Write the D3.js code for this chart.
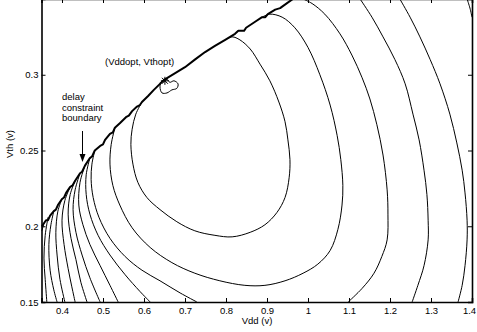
<!DOCTYPE html>
<html>
<head>
<meta charset="utf-8">
<script src="https://cdn.jsdelivr.net/npm/d3@7"></script>
<style>
  body { margin: 0; background: #fff; }
  svg { display: block; }
  text { font-family: "Liberation Sans", Arial, sans-serif; font-size: 9.5px; fill: #000; }
  .axis path, .axis line { stroke: #000; }
  .axis path { stroke-width: 1.6px; }
  .contour { fill: none; stroke: #000; stroke-width: 1px; }
  .boundary { fill: none; stroke: #000; stroke-width: 2px; stroke-linejoin: round; }
</style>
</head>
<body>
<svg id="chart" width="477" height="332"></svg>
<script>
// axis ticks
const xTicks = [0.4, 0.5, 0.6, 0.7, 0.8, 0.9, 1.0, 1.1, 1.2, 1.3, 1.4]
const yTicks = [0.15, 0.2, 0.25, 0.3]

// delay constraint boundary [Vdd, Vth], with its small stair steps
const boundary = [[.351,.200],[.356,.202],[.361,.204],[.366,.204],[.371,.207],[.380,.210],[.385,.211],
  [.390,.214],[.400,.218],[.405,.219],[.410,.222],[.420,.226],[.426,.227],[.432,.230],[.444,.235],
  [.449,.236],[.456,.240],[.468,.245],[.473,.246],[.480,.250],[.493,.253],[.500,.254],[.505,.257],
  [.517,.261],[.524,.262],[.529,.265],[.541,.268],[.556,.272],[.563,.273],[.571,.276],[.583,.279],
  [.590,.280],[.595,.282],[.610,.286],[.624,.290],[.639,.294],[.651,.297],[.676,.301],[.700,.305],
  [.724,.310],[.749,.315],[.773,.319],[.798,.323],[.822,.327],[.830,.329],[.844,.329],[.849,.331],
  [.871,.335],[.888,.338],[.896,.338],[.902,.340],[.920,.343],[.932,.344],[.937,.345],[.963,.350]]

// energy contours [Vdd, Vth]
const contour1 = [[.595,.282],[.580,.274],[.571,.264],[.568,.254],[.573,.241],[.585,.229],[.607,.219],
  [.639,.211],[.680,.203],[.724,.197],[.773,.194],[.815,.193],[.859,.196],[.895,.201],[.924,.209],
  [.944,.219],[.954,.232],[.956,.244],[.951,.257],[.944,.269],[.929,.282],[.907,.296],[.883,.307],
  [.859,.317],[.834,.323],[.815,.325],[.798,.323]]
const contour2 = [[.529,.265],[.520,.254],[.517,.241],[.524,.227],[.541,.214],[.571,.199],[.615,.186],
  [.668,.176],[.724,.169],[.785,.164],[.846,.161],[.895,.161],[.944,.164],[.988,.169],[1.024,.175],
  [1.054,.184],[1.073,.198],[1.083,.214],[1.085,.227],[1.080,.244],[1.071,.260],[1.054,.280],
  [1.029,.300],[1.000,.318],[.968,.331],[.937,.338],[.907,.340],[.888,.338]]
const contour3a = [[.480,.250],[.473,.241],[.471,.231],[.476,.219],[.490,.206],[.517,.192],[.554,.180],
  [.595,.171],[.639,.164],[.688,.156],[.729,.150]]
const contour3b = [[.988,.350],[1.010,.347],[1.041,.340],[1.078,.327],[1.107,.313],[1.132,.298],
  [1.151,.284],[1.168,.267],[1.183,.247],[1.193,.224],[1.195,.208],[1.193,.191],[1.180,.180],
  [1.161,.169],[1.132,.159],[1.098,.150]]
const contour4a = [[.468,.245],[.459,.234],[.459,.221],[.468,.208],[.488,.194],[.517,.181],[.554,.168],
  [.590,.157],[.615,.150]]
const contour4b = [[1.127,.350],[1.156,.338],[1.183,.325],[1.212,.310],[1.237,.294],[1.256,.274],
  [1.271,.257],[1.283,.237],[1.290,.221],[1.293,.204],[1.293,.191],[1.283,.174],[1.268,.161],[1.254,.150]]
const contour5a = [[.456,.240],[.444,.229],[.441,.214],[.451,.201],[.468,.188],[.493,.174],[.517,.161],[.537,.150]]
const contour5b = [[1.224,.350],[1.249,.338],[1.273,.325],[1.298,.310],[1.322,.294],[1.346,.274],
  [1.363,.255],[1.376,.237],[1.383,.222],[1.388,.204],[1.388,.191],[1.383,.174],[1.376,.161],[1.366,.150]]
const contour6a = [[.444,.235],[.432,.224],[.427,.211],[.434,.196],[.449,.181],[.468,.166],[.493,.150]]
const contour6b = [[1.388,.350],[1.395,.344],[1.400,.338]]
const contour7 = [[.432,.230],[.420,.221],[.415,.208],[.422,.192],[.434,.178],[.446,.163],[.461,.150]]
const contour8 = [[.420,.226],[.407,.217],[.400,.204],[.405,.188],[.415,.172],[.424,.160],[.432,.150]]
const contour9 = [[.400,.218],[.390,.210],[.385,.196],[.388,.181],[.395,.165],[.407,.150]]
const contour10 = [[.380,.210],[.373,.201],[.368,.188],[.371,.171],[.380,.158],[.388,.150]]
const contour11 = [[.366,.206],[.359,.194],[.356,.179],[.359,.165],[.363,.150]]
const contour12 = [[.356,.202],[.351,.197]]
// tiny closed contour next to the optimum
const optLoop = [[.639,.292],[.644,.288],[.656,.288],[.668,.290],[.680,.291],[.683,.294],[.673,.296],
  [.663,.295],[.656,.297],[.644,.296]]
const optimum = [0.651, 0.296]

const openContours = [contour1, contour2, contour3a, contour3b, contour4a, contour4b, contour5a,
  contour5b, contour6a, contour6b, contour7, contour8, contour9, contour10, contour11, contour12]

const svg = d3.select('#chart')

const xScale = d3.scaleLinear().domain([0.35, 1.4]).range([41.5, 472])
const yScale = d3.scaleLinear().domain([0.15, 0.35]).range([302, -1])

const line = d3.line()
  .x(d => xScale(d[0]))
  .y(d => yScale(d[1]))
  .curve(d3.curveCatmullRom.alpha(0.5))

const plot = svg.append('g')

plot.selectAll('.contour')
  .data(openContours)
  .enter()
  .append('path')
  .classed('contour', true)
  .attr('d', line)

plot.append('path')
  .classed('contour', true)
  .attr('d', line.curve(d3.curveCatmullRomClosed.alpha(0.5))(optLoop))

plot.append('path')
  .classed('boundary', true)
  .attr('d', d3.line().x(d => xScale(d[0])).y(d => yScale(d[1]))(boundary))

// optimum marker '*'
const ox = xScale(optimum[0]), oy = yScale(optimum[1])
const star = plot.append('g').attr('stroke', '#000').attr('stroke-width', 1)
star.append('line').attr('x1', ox - 4).attr('x2', ox + 4).attr('y1', oy).attr('y2', oy)
star.append('line').attr('x1', ox).attr('x2', ox).attr('y1', oy - 4).attr('y2', oy + 4)
star.append('line').attr('x1', ox - 3).attr('x2', ox + 3).attr('y1', oy - 3).attr('y2', oy + 3)
star.append('line').attr('x1', ox - 3).attr('x2', ox + 3).attr('y1', oy + 3).attr('y2', oy - 3)

// axes, inward ticks like matlab
const xAxisG = svg.append('g').classed('axis', true)
  .attr('transform', 'translate(0,302)')
  .call(d3.axisBottom(xScale).tickValues(xTicks).tickFormat(d3.format('~g')).tickSize(-4).tickPadding(5))
// keep the last label inside the picture
xAxisG.selectAll('.tick text').filter(d => d === 1.4).attr('dx', -3)

svg.append('g').classed('axis', true)
  .attr('transform', 'translate(0,-1)')
  .call(d3.axisTop(xScale).tickValues(xTicks).tickFormat('').tickSize(-4))
svg.append('g').classed('axis', true)
  .attr('transform', 'translate(41.5,0)')
  .call(d3.axisLeft(yScale).tickValues(yTicks).tickFormat(d3.format('~g')).tickSize(-4).tickPadding(3))
svg.append('g').classed('axis', true)
  .attr('transform', 'translate(472,0)')
  .call(d3.axisRight(yScale).tickValues(yTicks).tickFormat('').tickSize(-4))

svg.selectAll('.axis text').style('font-family', '"Liberation Sans", Arial, sans-serif').style('font-size', '9.5px')

// labels
svg.append('text').attr('x', 257).attr('y', 324).attr('text-anchor', 'middle').text('Vdd (v)')
svg.append('text').attr('transform', 'translate(13,144) rotate(-90)').attr('text-anchor', 'middle').text('Vth (v)')

svg.append('text').attr('x', 105).attr('y', 65).text('(Vddopt, Vthopt)')
const note = svg.append('text').attr('x', 62).attr('y', 100)
note.append('tspan').attr('x', 62).attr('dy', 0).text('delay')
note.append('tspan').attr('x', 62).attr('dy', 10.5).text('constraint')
note.append('tspan').attr('x', 62).attr('dy', 10.5).text('boundary')

// arrow to the boundary
svg.append('line').attr('x1', 82.5).attr('x2', 82.5).attr('y1', 131).attr('y2', 156)
  .attr('stroke', '#000').attr('stroke-width', 1)
svg.append('path').attr('d', 'M79.5,154 L85.5,154 L82.5,162 Z').attr('fill', '#000')
</script>
</body>
</html>
